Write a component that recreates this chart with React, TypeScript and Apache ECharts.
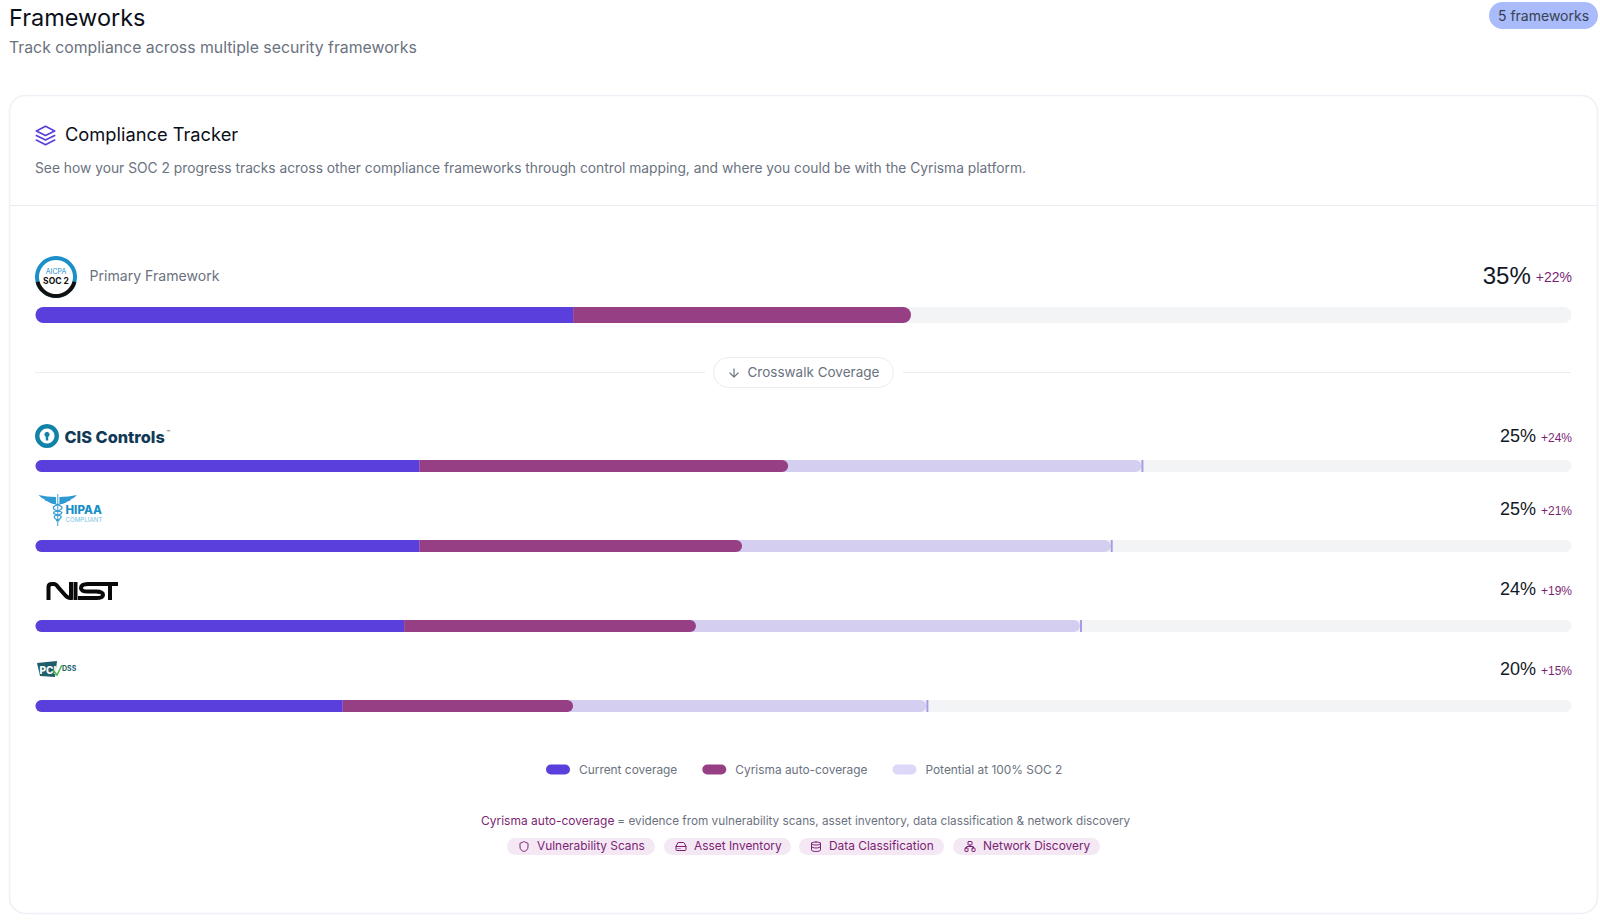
import React, { useEffect, useRef } from "react";
import * as echarts from "echarts";

const FONT = "Inter, 'Noto Sans', sans-serif";
const NUM_FONT = "'Liberation Sans', Arial, sans-serif";

const primaryName = ["SOC 2"];
const primaryCurrent = [35];
const primaryAuto = [22];
const crosswalkNames = ["CIS Controls", "HIPAA", "NIST", "PCI DSS"];
const crosswalkCurrent = [25, 25, 24, 20];
const crosswalkAuto = [24, 21, 19, 15];
const crosswalkPotentialEnd = [72, 70, 68, 58];
const legendNames = ["Current coverage", "Cyrisma auto-coverage", "Potential at 100% SOC 2"];
const chipNames = ["Vulnerability Scans", "Asset Inventory", "Data Classification", "Network Discovery"];

const BLUE = "#5a3fdc";
const PURPLE = "#973f85";
const LIGHT = "#d4cef1";
const TRACK = "#f3f4f6";
const GRAY = "#6b7280";
const DARK = "#111827";
const MAGENTA = "#7d1f75";
const LINE = "#e8ecf3";

const icons: Record<string, string> = {
  layers: "M12 2 2 7l10 5 10-5-10-5Z M2 12l10 5 10-5 M2 17l10 5 10-5",
  arrow: "M12 5v14 M19 12l-7 7-7-7",
  shield: "M20 13c0 5-3.5 7.5-7.66 8.95a1 1 0 0 1-.67-.01C7.5 20.5 4 18 4 13V6a1 1 0 0 1 1-1c2 0 4.5-1.2 6.24-2.72a1.17 1.17 0 0 1 1.52 0C14.51 3.81 17 5 19 5a1 1 0 0 1 1 1Z",
  drive: "M22 12H2 M5.45 5.11 2 12v6a2 2 0 0 0 2 2h16a2 2 0 0 0 2-2v-6l-3.45-6.89A2 2 0 0 0 16.76 4H7.24a2 2 0 0 0-1.79 1.11Z M6 16h.01 M10 16h.01",
  database: "M12 3c5 0 9 1.3 9 3s-4 3-9 3-9-1.3-9-3 4-3 9-3Z M3 5v14c0 1.7 4 3 9 3s9-1.3 9-3V5 M3 12c0 1.7 4 3 9 3s9-1.3 9-3",
  network: "M9 2h6a1 1 0 0 1 1 1v5a1 1 0 0 1-1 1H9a1 1 0 0 1-1-1V3a1 1 0 0 1 1-1Z M17 15h4a1 1 0 0 1 1 1v5a1 1 0 0 1-1 1h-4a1 1 0 0 1-1-1v-5a1 1 0 0 1 1-1Z M3 15h4a1 1 0 0 1 1 1v5a1 1 0 0 1-1 1H3a1 1 0 0 1-1-1v-5a1 1 0 0 1 1-1Z M5 15v-2a1 1 0 0 1 1-1h12a1 1 0 0 1 1 1v2 M12 12V9",
  nist: "M48.5 600V587Q48.5 584 52 584H54Q56 584 58 587L65 595Q68 598.5 71 598V582 M75.5 582V600 M107 584H88Q81 584 81 588Q81 591.5 88 591.5H96Q103 591.5 103 595Q103 598 96 598H78 M95 584H118 M110 584V600",
  staff: "M57.7 494V526",
  snakeA: "M52 503Q60 505 62 507Q63 510 54 512Q52 514 61 516Q62 519 56 521",
  snakeB: "M63.4 503Q55.4 505 53.4 507Q52.4 510 61.4 512Q63.4 514 54.4 516Q53.4 519 59.4 521",
  wingL: "M56 497Q47 497 38.5 495Q41 498 44 499Q45 501 48 501.5Q50 503.5 56 504Z",
  wingR: "M59.4 497Q68.4 497 77 495Q74.4 498 71.4 499Q70.4 501 67.4 501.5Q65.4 503.5 59.4 504Z",
  pciFlag: "M37 663L57 661L55 677L40 676Z",
  check: "M53 670L57 675L62 665",
};
Object.keys(icons).forEach((k) => {
  echarts.graphic.registerShape("ic_" + k, echarts.graphic.extendPath(icons[k], {}));
});

function textWidth(t: string, size: number, family = "Liberation Sans") {
  const c = document.createElement("canvas").getContext("2d")!;
  c.font = `400 ${size}px '${family}'`;
  return c.measureText(t).width;
}

const txt = (text: string, x: number, y: number, fontSize: number, fill: string, extra: any = {}) => ({
  type: "text",
  x,
  y,
  silent: true,
  style: { text, fontSize, fill, fontFamily: FONT, verticalAlign: "middle", ...extra },
});

const icon = (name: string, x: number, y: number, size: number, stroke: string, lineWidth = 2) => ({
  type: "ic_" + name,
  x: x - size / 2,
  y: y - size / 2,
  scaleX: size / 24,
  scaleY: size / 24,
  silent: true,
  style: { fill: "none", stroke, lineWidth, lineCap: "round", lineJoin: "round" },
});

function pct(value: number, delta: number, y: number, big: number, small: number, gap: number) {
  const d = `+${delta}%`;
  const v = `${value}%`;
  const w = textWidth(d, small);
  return [
    txt(d, 1572, y + 2, small, MAGENTA, { align: "right", fontFamily: NUM_FONT }),
    txt(v, 1572 - w - gap, y, big, DARK, { align: "right", fontFamily: NUM_FONT }),
  ];
}

function buildGraphic() {
  const els: any[] = [
    { type: "rect", shape: { x: 9.5, y: 95.5, width: 1588, height: 818, r: 16 }, style: { fill: "#fff", stroke: "#edf0f5", lineWidth: 1.5 }, silent: true, z: -10 },
    txt("Frameworks", 9, 17.5, 23.5, "#0b0f19"),
    txt("Track compliance across multiple security frameworks", 9, 47.8, 15.8, GRAY),
    { type: "rect", shape: { x: 1489, y: 2, width: 109, height: 27, r: 13.5 }, style: { fill: "#a9bbfb" }, silent: true },
    txt("5 frameworks", 1543.5, 15.5, 14, "#374151", { align: "center" }),
    icon("layers", 45.5, 135.5, 22, "#5a3fdc", 1.8),
    txt("Compliance Tracker", 65, 133.5, 18.3, "#0b0f19"),
    txt("See how your SOC 2 progress tracks across other compliance frameworks through control mapping, and where you could be with the Cyrisma platform.", 35, 168, 13.8, GRAY),
    { type: "line", shape: { x1: 10, y1: 205.5, x2: 1597, y2: 205.5 }, style: { stroke: LINE, lineWidth: 1 }, silent: true },

    // SOC 2 badge
    { type: "circle", shape: { cx: 56, cy: 277, r: 21 }, style: { fill: "#1b8fc8" }, silent: true },
    { type: "sector", shape: { cx: 56, cy: 277, r: 21, r0: 0, startAngle: 0.25, endAngle: Math.PI - 0.25 }, style: { fill: "#111" }, silent: true },
    { type: "circle", shape: { cx: 56, cy: 277, r: 17 }, style: { fill: "#fff" }, silent: true },
    txt("AICPA", 56, 271, 7, "#1b8fc8", { align: "center" }),
    txt("SOC 2", 56, 281, 8.5, "#111", { align: "center", fontWeight: 700 }),
    txt("Primary Framework", 89.5, 275.8, 14.1, GRAY),

    // crosswalk divider
    { type: "line", shape: { x1: 35, y1: 372.5, x2: 705, y2: 372.5 }, style: { stroke: LINE, lineWidth: 1 }, silent: true },
    { type: "line", shape: { x1: 903, y1: 372.5, x2: 1571, y2: 372.5 }, style: { stroke: LINE, lineWidth: 1 }, silent: true },
    { type: "rect", shape: { x: 713.5, y: 357.5, width: 180, height: 30, r: 15 }, style: { fill: "#fff", stroke: LINE, lineWidth: 1 }, silent: true },
    icon("arrow", 734, 373, 14, GRAY, 2),
    txt("Crosswalk Coverage", 747.5, 372, 13.5, GRAY),

    // CIS
    { type: "circle", shape: { cx: 47, cy: 436, r: 12 }, style: { fill: "#1283a8" }, silent: true },
    { type: "circle", shape: { cx: 47, cy: 436, r: 7.5 }, style: { fill: "#fff" }, silent: true },
    { type: "circle", shape: { cx: 47, cy: 434.5, r: 2.6 }, style: { fill: "#1283a8" }, silent: true },
    { type: "rect", shape: { x: 45.8, y: 435, width: 2.4, height: 5.5 }, style: { fill: "#1283a8" }, silent: true },
    txt("CIS Controls", 64.5, 436.5, 16.3, "#123a57", { fontWeight: 800 }),
    txt("™", 166.5, 432, 6, "#123a57"),

    // HIPAA
    { type: "ic_staff", style: { fill: "none", stroke: "#6bb8e0", lineWidth: 1.3 }, silent: true },
    { type: "ic_snakeA", style: { fill: "none", stroke: "#2f9ad2", lineWidth: 1.2 }, silent: true },
    { type: "ic_snakeB", style: { fill: "none", stroke: "#2f9ad2", lineWidth: 1.2 }, silent: true },
    { type: "ic_wingL", style: { fill: "#2f9ad2" }, silent: true },
    { type: "ic_wingR", style: { fill: "#2f9ad2" }, silent: true },
    txt("HIPAA", 65.5, 510, 11.5, "#1a8fc7", { fontWeight: 800 }),
    txt("COMPLIANT", 65.5, 519, 6.2, "#7cc3e4"),

    // NIST
    { type: "ic_nist", style: { fill: "none", stroke: "#0a0a0a", lineWidth: 4 }, silent: true },

    // PCI
    { type: "ic_pciFlag", style: { fill: "#1f5f6b" }, silent: true },
    txt("PCI", 39.5, 669.5, 10, "#fff", { fontWeight: 800 }),
    { type: "ic_check", style: { fill: "none", stroke: "#4cb648", lineWidth: 1.5 }, silent: true },
    txt("DSS", 62, 668, 7, "#1f5f6b", { fontWeight: 700 }),

    // footnote
    txt("Cyrisma auto-coverage", 481, 820.5, 12, MAGENTA),
  ];

  els.push(...pct(primaryCurrent[0], primaryAuto[0], 275, 24, 14, 5));
  const rowY = [436, 509, 589, 669];
  crosswalkNames.forEach((_, i) => {
    els.push(...pct(crosswalkCurrent[i], crosswalkAuto[i], rowY[i], 18, 12, 5));
  });

  const a = textWidth("Cyrisma auto-coverage", 12, "Inter");
  els.push(txt("= evidence from vulnerability scans, asset inventory, data classification & network discovery", 481 + a + 3, 820.5, 11.75, GRAY));

  const chipBox = [[507, 148], [664, 127], [799, 145], [953, 147]];
  const chipIcons = ["shield", "drive", "database", "network"];
  chipNames.forEach((name, i) => {
    const [x, w] = chipBox[i];
    els.push(
      { type: "rect", shape: { x, y: 838, width: w, height: 17, r: 8.5 }, style: { fill: "#f3e8f3" }, silent: true },
      icon(chipIcons[i], x + 17, 846.5, 12, MAGENTA, 2),
      txt(name, x + 30, 845.3, 11.9, MAGENTA),
    );
  });
  return els;
}

export default function App() {
  const ref = useRef<HTMLDivElement>(null);
  useEffect(() => {
    const chart = echarts.init(ref.current!, undefined, { renderer: "svg" });
    const bg = (r: number) => ({ showBackground: true, backgroundStyle: { color: TRACK, borderRadius: r } });
    const opt: any = {
      animation: false,
      backgroundColor: "#fff",
      textStyle: { fontFamily: FONT },
      grid: [
        { left: 35.5, top: 307, width: 1536, height: 16 },
        { left: 35.5, top: 426, width: 1536, height: 320 },
      ],
      xAxis: [
        { gridIndex: 0, type: "value", min: 0, max: 100, show: false },
        { gridIndex: 1, type: "value", min: 0, max: 100, show: false },
      ],
      yAxis: [
        { gridIndex: 0, type: "category", data: primaryName, inverse: true, show: false },
        { gridIndex: 1, type: "category", data: crosswalkNames, inverse: true, show: false },
      ],
      legend: {
        show: true,
        left: 541,
        top: 758.5,
        itemWidth: 24,
        itemHeight: 10.5,
        itemGap: 25,
        icon: "path://M5 0H19A5 5 0 0 1 19 10H5A5 5 0 0 1 5 0Z",
        textStyle: { color: GRAY, fontSize: 11.9, fontFamily: FONT, padding: [0, 0, 0, 4] },
        data: [
          { name: legendNames[0] },
          { name: legendNames[1] },
          { name: legendNames[2], itemStyle: { color: "#ddd8f8" } },
        ],
      },
      series: [
        { name: legendNames[0], type: "bar", xAxisIndex: 0, yAxisIndex: 0, stack: "p", barWidth: 16, data: primaryCurrent, itemStyle: { color: BLUE, borderRadius: [8, 0, 0, 8] }, ...bg(8), z: 2 },
        { name: legendNames[1], type: "bar", xAxisIndex: 0, yAxisIndex: 0, stack: "p", barWidth: 16, data: primaryAuto, itemStyle: { color: PURPLE, borderRadius: [0, 8, 8, 0] }, z: 3 },
        { name: legendNames[2], type: "bar", xAxisIndex: 1, yAxisIndex: 1, barWidth: 12, barGap: "-100%", data: crosswalkPotentialEnd, itemStyle: { color: LIGHT, borderRadius: 6 }, ...bg(6), z: 2 },
        { name: legendNames[0], type: "bar", xAxisIndex: 1, yAxisIndex: 1, stack: "d", barWidth: 12, barGap: "-100%", data: crosswalkCurrent, itemStyle: { color: BLUE, borderRadius: [6, 0, 0, 6] }, z: 3 },
        { name: legendNames[1], type: "bar", xAxisIndex: 1, yAxisIndex: 1, stack: "d", barWidth: 12, data: crosswalkAuto, itemStyle: { color: PURPLE, borderRadius: [0, 6, 6, 0] }, z: 4 },
        {
          name: "marker",
          type: "custom",
          xAxisIndex: 1,
          yAxisIndex: 1,
          z: 5,
          data: crosswalkPotentialEnd.map((v, i) => [v, i]),
          encode: { x: 0, y: 1 },
          renderItem: (_p: any, api: any) => {
            const c = api.coord([api.value(0), api.value(1)]);
            return { type: "rect", shape: { x: c[0], y: c[1] - 6, width: 2, height: 12 }, style: { fill: "#a79be8" } };
          },
        },
      ],
      graphic: { elements: buildGraphic() },
    };
    chart.setOption(opt);
    return () => chart.dispose();
  }, []);
  return <div ref={ref} style={{ position: "absolute", left: 0, top: 0, width: 1600, height: 921 }} />;
}
